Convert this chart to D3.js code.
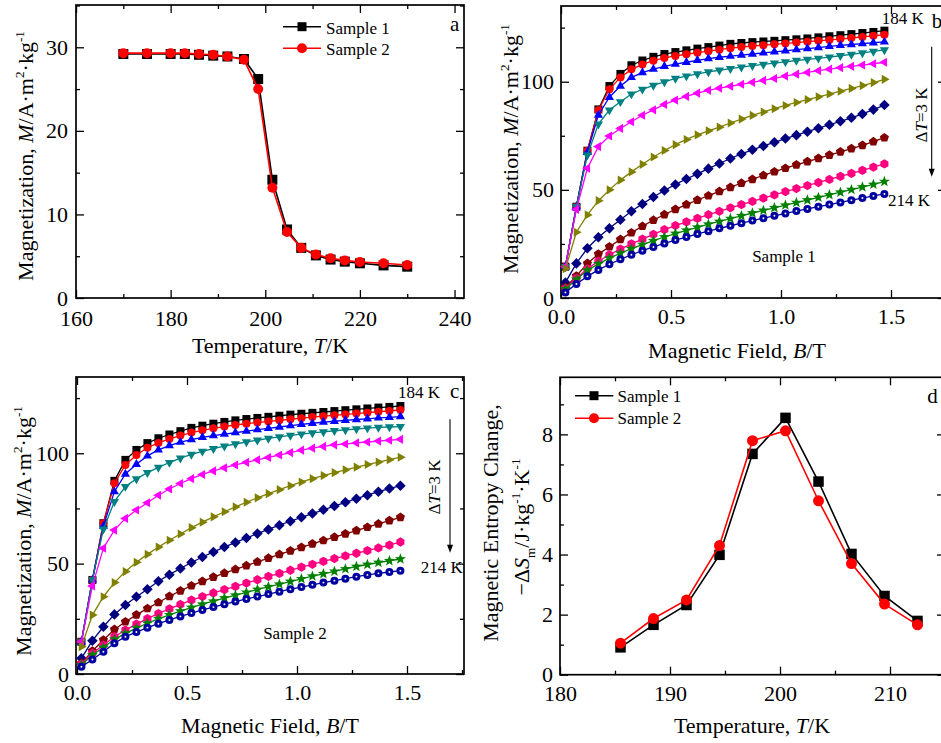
<!DOCTYPE html>
<html><head><meta charset="utf-8">
<script src="https://cdn.jsdelivr.net/npm/d3@7"></script>
<style>
body{margin:0;background:#fff}
svg{display:block;background:#fff}
text{font-family:"Liberation Serif","Times New Roman",serif;fill:#000}
</style>
</head><body>
<svg id="chart" width="941" height="743"></svg>
<script>
// ---------- Panel a : M vs T ----------
const tempA = [170,175,180,183,186,189,192,195.5,198.5,201.5,204.6,207.6,210.7,213.8,216.8,220,225,230];
const magA1 = [29.2,29.2,29.2,29.2,29.1,29.0,28.9,28.6,26.2,14.15,8.2,6.0,5.1,4.6,4.35,4.15,3.9,3.75];
const magA2 = [29.3,29.3,29.3,29.3,29.2,29.1,28.9,28.5,25.0,13.2,7.9,6.0,5.2,4.75,4.5,4.3,4.15,3.95];
const ticksAx = [160,180,200,220,240], minorAx = [170,190,210,230];
const ticksAy = [0,10,20,30], minorAy = [5,15,25,35];

// ---------- Panels b, c : M vs B ----------
const fieldB = [0.02,0.07,0.12,0.17,0.22,0.27,0.32,0.37,0.42,0.47,0.52,0.57,0.62,0.67,0.72,0.77,0.82,0.87,0.92,0.97,1.02,1.07,1.12,1.17,1.22,1.27,1.32,1.37,1.42,1.47];
const isoTemps = ["184 K","187 K","190 K","193 K","196 K","199 K","202 K","205 K","208 K","211 K","214 K"];
const s1_184 = [14.5,42.2,68.1,87.2,98.0,103.6,107.6,109.8,111.5,112.8,113.7,114.5,115.3,116.0,116.7,117.5,117.9,118.3,118.6,118.9,119.2,119.6,120.0,120.5,121.0,121.5,122.0,122.5,123.0,123.6];
const s1_187 = [14.5,42.2,68.1,86.8,96.5,102.0,105.7,108.0,109.7,111.0,111.9,112.7,113.4,114.1,114.8,115.5,116.0,116.5,116.9,117.3,117.7,118.1,118.5,118.9,119.3,119.7,120.2,120.7,121.2,121.7];
const s1_190 = [14.5,42.2,67.5,84.6,92.8,98.0,102.0,104.2,105.8,107.1,108.1,109.0,109.9,110.7,111.3,111.8,112.3,112.8,113.3,113.8,114.3,114.8,115.3,115.8,116.3,116.8,117.2,117.6,118.0,118.4];
const s1_193 = [14.5,42.2,66.1,80.4,86.9,90.7,94.3,96.5,98.3,99.9,101.5,102.6,103.6,104.5,105.3,106.0,106.7,107.4,108.0,108.6,109.2,109.8,110.3,110.8,111.4,112.0,112.6,113.3,114.0,114.7];
const s1_196 = [14.5,41.0,60.0,70.0,74.9,78.4,81.5,84.5,87.0,89.5,91.5,93.2,94.7,96.0,97.0,97.9,98.8,99.7,100.6,101.5,102.6,103.5,104.3,105.1,105.8,106.5,107.1,107.7,108.3,109.0];
const s1_199 = [13.5,30.4,38.4,45.0,50.0,54.5,58.3,61.8,65.2,68.2,70.9,73.3,75.4,77.3,79.0,80.9,82.7,84.4,86.0,87.5,89.0,90.4,91.7,93.0,94.3,95.6,96.9,98.2,99.6,101.1];
const s1_202 = [7.1,16.0,23.0,28.1,32.2,36.2,40.1,43.5,46.7,49.7,52.5,55.0,57.4,59.8,62.2,64.5,66.6,68.5,70.3,72.0,73.7,75.3,76.9,78.5,80.1,81.7,83.3,85.1,87.1,89.2];
const s1_205 = [4.9,10.2,16.0,20.3,23.7,27.1,30.2,33.2,36.0,38.6,41.0,43.2,45.3,47.3,49.3,51.2,53.1,54.9,56.7,58.4,60.0,61.6,63.1,64.6,66.1,67.6,69.1,70.6,72.3,74.1];
const s1_208 = [4.5,9.1,13.5,17.0,20.0,22.6,25.0,27.2,29.4,31.6,33.5,35.2,36.8,38.5,40.1,41.7,43.2,44.7,46.2,47.7,49.2,50.6,52.0,53.4,54.8,56.2,57.6,59.0,60.5,62.0];
const s1_211 = [4.2,8.6,12.8,15.8,18.4,20.7,22.8,24.7,26.5,28.2,29.8,31.3,32.7,34.1,35.4,36.7,38.0,39.3,40.5,41.7,42.9,44.1,45.3,46.5,47.7,48.9,50.1,51.3,52.5,53.8];
const s1_214 = [2.6,6.5,10.0,13.0,15.6,17.9,20.0,21.9,23.6,25.2,26.8,28.2,29.6,30.9,32.2,33.4,34.6,35.8,36.9,38.0,39.1,40.2,41.2,42.2,43.2,44.2,45.2,46.2,47.2,48.1];

const s2_184 = [14.6,42.6,68.3,87.5,97.0,101.5,104.6,106.8,108.5,110.0,111.5,112.5,113.4,114.2,114.9,115.5,116.0,116.5,117.0,117.5,117.9,118.3,118.7,119.1,119.5,119.9,120.3,120.7,121.0,121.4];
const s2_187 = [14.6,42.6,68.3,86.4,94.7,99.2,102.5,104.7,106.5,108.0,109.4,110.4,111.3,112.1,112.8,113.4,113.9,114.4,114.9,115.4,115.9,116.4,116.8,117.2,117.6,118.0,118.4,118.8,119.2,119.6];
const s2_190 = [14.6,42.6,67.0,82.6,90.6,95.0,98.8,101.5,103.5,105.0,106.2,107.2,108.0,108.7,109.3,110.0,110.7,111.3,111.9,112.5,113.1,113.6,114.1,114.5,114.9,115.3,115.6,116.0,116.3,116.6];
const s2_193 = [14.6,42.6,65.6,78.1,84.9,88.4,91.2,93.6,95.8,97.8,99.5,100.9,102.1,103.2,104.2,105.1,105.9,106.7,107.4,108.1,108.7,109.2,109.7,110.2,110.6,111.0,111.4,111.7,111.9,112.1];
const s2_196 = [14.6,39.9,57.0,65.2,70.5,74.3,77.6,81.0,83.8,86.3,88.5,90.4,92.0,93.4,94.7,95.9,97.0,98.1,99.2,100.3,101.4,102.3,103.1,103.8,104.2,104.7,105.1,105.5,105.9,106.3];
const s2_199 = [12.4,26.7,35.0,41.4,46.4,50.6,54.2,57.5,60.6,63.4,66.3,68.8,71.2,73.5,75.7,77.8,79.8,81.7,83.5,85.3,87.0,88.5,89.9,91.2,92.5,93.7,94.9,96.0,97.1,98.2];
const s2_202 = [7.1,15.1,21.4,27.0,31.3,35.0,38.4,42.0,45.0,47.8,50.5,53.0,55.3,57.5,59.6,61.6,63.6,65.5,67.4,69.2,71.0,72.7,74.4,76.1,77.8,79.4,81.0,82.6,84.0,85.3];
const s2_205 = [4.8,10.4,15.4,20.2,23.7,26.8,29.7,32.4,35.2,37.7,40.0,42.0,43.9,45.7,47.4,49.1,50.8,52.5,54.2,55.8,57.4,59.0,60.5,62.0,63.5,65.0,66.5,68.0,69.5,71.0];
const s2_208 = [4.5,9.4,13.1,16.9,19.9,22.6,25.1,27.4,29.5,31.5,33.5,35.1,36.7,38.2,39.7,41.2,42.7,44.2,45.6,47.0,48.4,49.7,51.0,52.3,53.5,54.7,55.9,57.1,58.4,59.8];
const s2_211 = [4.1,8.6,12.0,15.7,18.4,20.8,23.0,25.0,26.8,28.5,30.1,31.6,33.0,34.4,35.7,37.0,38.3,39.5,40.7,41.9,43.1,44.3,45.4,46.5,47.6,48.7,49.6,50.5,51.3,52.1];
const s2_214 = [3.3,6.6,10.1,13.9,16.9,19.0,21.0,22.8,24.5,26.1,27.6,29.0,30.3,31.6,32.8,34.0,35.1,36.2,37.3,38.4,39.4,40.4,41.4,42.3,43.2,44.1,44.9,45.6,46.2,46.8];
const ticksBx = [0,0.5,1.0,1.5], minorBx = [0.25,0.75,1.25,1.75];
const ticksBy = [0,50,100], minorBy = [25,75,125];

// ---------- Panel d : -dSm vs T ----------
const tempD = [185.5,188.5,191.5,194.5,197.5,200.5,203.5,206.5,209.5,212.5];
const dS1 = [0.91,1.66,2.32,3.99,7.35,8.55,6.43,4.02,2.62,1.79];
const dS2 = [1.05,1.87,2.49,4.30,7.79,8.12,5.79,3.70,2.35,1.66];
const ticksDx = [180,190,200,210], minorDx = [185,195,205,215];
const ticksDy = [0,2,4,6,8], minorDy = [1,3,5,7,9];

// styles for the 11 isotherms
const isoColors = ["#000000","#ff0000","#0000ff","#008080","#ff00ff","#808000","#000080","#800000","#ff0080","#008000","#0000a0"];
const isoShapes = ["square","circle","triUp","triDown","triLeft","triRight","diamond","pentagon","hexagon","star","sphere"];
const sample1Sets = [s1_184,s1_187,s1_190,s1_193,s1_196,s1_199,s1_202,s1_205,s1_208,s1_211,s1_214];
const sample2Sets = [s2_184,s2_187,s2_190,s2_193,s2_196,s2_199,s2_202,s2_205,s2_208,s2_211,s2_214];

const svg = d3.select("#chart");

function polyPath(n, r, rot){
  const p = d3.path();
  for(let i=0;i<n;i++){const a=rot+i*2*Math.PI/n;const x=r*Math.sin(a),y=-r*Math.cos(a);if(i)p.lineTo(x,y);else p.moveTo(x,y);}
  p.closePath();return p.toString();
}
function starPath(ro, ri){
  const p=d3.path();
  for(let i=0;i<10;i++){const r=i%2?ri:ro;const a=i*Math.PI/5;const x=r*Math.sin(a),y=-r*Math.cos(a);if(i)p.lineTo(x,y);else p.moveTo(x,y);}
  p.closePath();return p.toString();
}
function shapePath(shape, s){
  switch(shape){
    case "square": return polyPath(4, s*0.707, Math.PI/4);
    case "triUp": return polyPath(3, s*0.66, 0);
    case "triDown": return polyPath(3, s*0.66, Math.PI);
    case "triLeft": return polyPath(3, s*0.66, -Math.PI/2);
    case "triRight": return polyPath(3, s*0.66, Math.PI/2);
    case "diamond": return polyPath(4, s*0.66, 0);
    case "pentagon": return polyPath(5, s*0.6, 0);
    case "hexagon": return polyPath(6, s*0.58, 0);
    case "star": return starPath(s*0.72, s*0.3);
  }
  return null;
}
function drawMarkers(g, xs, ys, x, y, shape, color, s){
  const pts = xs.map((v,i)=>[x(v), y(ys[i])]);
  if(shape==="circle"||shape==="sphere"){
    g.selectAll(null).data(pts).enter().append("circle")
      .attr("cx",d=>d[0]).attr("cy",d=>d[1]).attr("r",s/2).attr("fill",color);
    if(shape==="sphere"){
      g.selectAll(null).data(pts).enter().append("circle")
        .attr("cx",d=>d[0]).attr("cy",d=>d[1]).attr("r",s*0.12).attr("fill","#fff");
    }
  } else {
    const d = shapePath(shape, s);
    g.selectAll(null).data(pts).enter().append("path")
      .attr("d", d).attr("transform", p=>`translate(${p[0]},${p[1]})`).attr("fill",color);
  }
}
function drawSeries(g, xs, ys, x, y, shape, color, s, lw){
  const line = d3.line().x((d,i)=>x(xs[i])).y(d=>y(d));
  g.append("path").attr("d", line(ys)).attr("fill","none").attr("stroke",color).attr("stroke-width",lw);
  drawMarkers(g, xs, ys, x, y, shape, color, s);
}

function rich(g, x, y, size, parts, anchor, rotate){
  const t = g.append("text").attr("x",x).attr("y",y).attr("font-size",size).attr("text-anchor",anchor||"start");
  if(rotate) t.attr("transform",`rotate(${rotate},${x},${y})`);
  let shift=0;
  parts.forEach(p=>{
    const ts=t.append("tspan").text(p.t);
    let target=0;
    if(p.sup) target=-size*0.42; else if(p.sub) target=size*0.28;
    ts.attr("dy", target-shift); shift=target;
    if(p.sup||p.sub) ts.attr("font-size", size*0.6);
    if(p.it) ts.attr("font-style","italic");
  });
  return t;
}

function axes(g, x, y, f, o){
  const styleAxis = sel => { sel.select(".domain").remove(); sel.selectAll("line").attr("stroke","#000").attr("stroke-width",1.3);
    sel.selectAll("text").attr("font-size",22).attr("font-family",'"Liberation Serif","Times New Roman",serif').attr("fill","#000"); };
  g.append("g").attr("transform",`translate(0,${f.b})`)
    .call(d3.axisBottom(x).tickValues(o.xt).tickFormat(o.xf).tickSizeInner(-8).tickSizeOuter(0).tickPadding(o.padX)).call(styleAxis);
  g.append("g").attr("transform",`translate(0,${f.b})`)
    .call(d3.axisBottom(x).tickValues(o.xm).tickFormat("").tickSizeInner(-4).tickSizeOuter(0)).call(styleAxis);
  g.append("g").attr("transform",`translate(0,${f.t})`)
    .call(d3.axisTop(x).tickValues(o.xt).tickFormat("").tickSizeInner(-8).tickSizeOuter(0)).call(styleAxis);
  g.append("g").attr("transform",`translate(0,${f.t})`)
    .call(d3.axisTop(x).tickValues(o.xm).tickFormat("").tickSizeInner(-4).tickSizeOuter(0)).call(styleAxis);
  g.append("g").attr("transform",`translate(${f.l},0)`)
    .call(d3.axisLeft(y).tickValues(o.yt).tickFormat(o.yf).tickSizeInner(-8).tickSizeOuter(0).tickPadding(o.padY)).call(styleAxis);
  g.append("g").attr("transform",`translate(${f.l},0)`)
    .call(d3.axisLeft(y).tickValues(o.ym).tickFormat("").tickSizeInner(-4).tickSizeOuter(0)).call(styleAxis);
  g.append("g").attr("transform",`translate(${f.r},0)`)
    .call(d3.axisRight(y).tickValues(o.yt).tickFormat("").tickSizeInner(-8).tickSizeOuter(0)).call(styleAxis);
  g.append("g").attr("transform",`translate(${f.r},0)`)
    .call(d3.axisRight(y).tickValues(o.ym).tickFormat("").tickSizeInner(-4).tickSizeOuter(0)).call(styleAxis);
  g.append("rect").attr("x",f.l).attr("y",f.t).attr("width",f.r-f.l).attr("height",f.b-f.t)
    .attr("fill","none").attr("stroke","#000").attr("stroke-width",1.7);
}

function arrowDown(g, x, y1, y2){
  g.append("line").attr("x1",x).attr("x2",x).attr("y1",y1).attr("y2",y2-6).attr("stroke","#000").attr("stroke-width",1.1);
  g.append("path").attr("d",`M${x-3},${y2-8}L${x+3},${y2-8}L${x},${y2}Z`).attr("fill","#000");
}

const magLabel = [{t:"Magnetization, "},{t:"M",it:1},{t:"/A·m"},{t:"2",sup:1},{t:"·kg"},{t:"-1",sup:1}];
const fieldLabel = [{t:"Magnetic Field, "},{t:"B",it:1},{t:"/T"}];
const tempLabel = [{t:"Temperature, "},{t:"T",it:1},{t:"/K"}];

// ===== Panel a =====
{
  const f={l:76,r:464,t:5,b:298};
  const g=svg.append("g");
  const x=d3.scaleLinear().domain([160,242]).range([f.l,f.r]);
  const y=d3.scaleLinear().domain([0,35]).range([f.b,f.t+0.5]);
  axes(g,x,y,f,{xt:ticksAx,xm:minorAx,yt:ticksAy,ym:minorAy,xf:d3.format("d"),yf:d3.format("d"),padX:12,padY:8});
  drawSeries(g,tempA,magA1,x,y,"square","#000",10,1.6);
  drawSeries(g,tempA,magA2,x,y,"circle","#ff0000",10,1.6);
  // legend
  g.append("line").attr("x1",283).attr("x2",321).attr("y1",26.7).attr("y2",26.7).attr("stroke","#000").attr("stroke-width",1.6);
  g.append("path").attr("d",shapePath("square",9)).attr("transform","translate(302,26.7)").attr("fill","#000");
  g.append("line").attr("x1",283).attr("x2",321).attr("y1",48.3).attr("y2",48.3).attr("stroke","#f00").attr("stroke-width",1.6);
  g.append("circle").attr("cx",302).attr("cy",48.3).attr("r",5).attr("fill","#f00");
  g.append("text").attr("x",326).attr("y",33.5).attr("font-size",17).text("Sample 1");
  g.append("text").attr("x",326).attr("y",55).attr("font-size",17).text("Sample 2");
  g.append("text").attr("x",450).attr("y",30.5).attr("font-size",21).text("a");
  rich(g,270,353,22,tempLabel,"middle");
  rich(g,33,156,22,magLabel,"middle",-90);
}

// ===== Panel b =====
{
  const f={l:561,r:946,t:6,b:298};
  const g=svg.append("g");
  const x=d3.scaleLinear().domain([0,1.75]).range([f.l,f.r]);
  const y=d3.scaleLinear().domain([0,135]).range([f.b,f.t]);
  axes(g,x,y,f,{xt:ticksBx,xm:minorBx,yt:ticksBy,ym:minorBy,xf:d3.format(".1f"),yf:d3.format("d"),padX:10.5,padY:7});
  sample1Sets.forEach((ys,i)=>drawSeries(g,fieldB,ys,x,y,isoShapes[i],isoColors[i],8,1.3));
  g.append("text").attr("x",881.7).attr("y",24).attr("font-size",17).text(isoTemps[0]);
  g.append("text").attr("x",888).attr("y",206).attr("font-size",17).text(isoTemps[10]);
  g.append("text").attr("x",931.7).attr("y",28).attr("font-size",21).text("b");
  rich(g,927,115,17,[{t:"Δ"},{t:"T",it:1},{t:"=3 K"}],"middle",-90);
  arrowDown(g,931.7,46.7,176.7);
  g.append("text").attr("x",784).attr("y",262).attr("font-size",17).attr("text-anchor","middle").text("Sample 1");
  rich(g,737,358,22,fieldLabel,"middle");
  rich(g,518,149,22,magLabel,"middle",-90);
}

// ===== Panel c =====
{
  const f={l:76,r:464,t:377,b:674};
  const g=svg.append("g");
  const x=d3.scaleLinear().domain([0,1.75]).range([77,462]);
  const y=d3.scaleLinear().domain([0,135]).range([f.b,f.t-1]);
  axes(g,x,y,f,{xt:ticksBx,xm:minorBx,yt:ticksBy,ym:minorBy,xf:d3.format(".1f"),yf:d3.format("d"),padX:10.5,padY:7});
  sample2Sets.forEach((ys,i)=>drawSeries(g,fieldB,ys,x,y,isoShapes[i],isoColors[i],8,1.3));
  g.append("text").attr("x",398).attr("y",398).attr("font-size",17).text(isoTemps[0]);
  g.append("text").attr("x",420.7).attr("y",573).attr("font-size",17).text(isoTemps[10]);
  g.append("text").attr("x",450).attr("y",398).attr("font-size",21).text("c");
  rich(g,440,487,17,[{t:"Δ"},{t:"T",it:1},{t:"=3 K"}],"middle",-90);
  arrowDown(g,450,419.3,552.7);
  g.append("text").attr("x",295).attr("y",639).attr("font-size",17).attr("text-anchor","middle").text("Sample 2");
  rich(g,270,733,22,fieldLabel,"middle");
  rich(g,31,531,22,magLabel,"middle",-90);
}

// ===== Panel d =====
{
  const f={l:560,r:945,t:377.3,b:674.7};
  const g=svg.append("g");
  const x=d3.scaleLinear().domain([180,215]).range([f.l,f.r]);
  const y=d3.scaleLinear().domain([0,9.9]).range([f.b,f.t]);
  axes(g,x,y,f,{xt:ticksDx,xm:minorDx,yt:ticksDy,ym:minorDy,xf:d3.format("d"),yf:d3.format("d"),padX:10.5,padY:7});
  drawSeries(g,tempD,dS1,x,y,"square","#000",10.5,1.6);
  drawSeries(g,tempD,dS2,x,y,"circle","#ff0000",11,1.6);
  g.append("line").attr("x1",575).attr("x2",613.3).attr("y1",395.7).attr("y2",395.7).attr("stroke","#000").attr("stroke-width",1.6);
  g.append("path").attr("d",shapePath("square",9)).attr("transform","translate(594,395.7)").attr("fill","#000");
  g.append("line").attr("x1",575).attr("x2",613.3).attr("y1",418.3).attr("y2",418.3).attr("stroke","#f00").attr("stroke-width",1.6);
  g.append("circle").attr("cx",594).attr("cy",418.3).attr("r",5).attr("fill","#f00");
  g.append("text").attr("x",617.5).attr("y",402).attr("font-size",17).text("Sample 1");
  g.append("text").attr("x",617.5).attr("y",424).attr("font-size",17).text("Sample 2");
  g.append("text").attr("x",927.3).attr("y",403).attr("font-size",21).text("d");
  rich(g,752,733,22,tempLabel,"middle");
  rich(g,498,523,22,[{t:"Magnetic Entropy Change,"}],"middle",-90);
  rich(g,529,527,22,[{t:"−Δ"},{t:"S",it:1},{t:"m",sub:1},{t:"/J·kg"},{t:"-1",sup:1},{t:"·K"},{t:"-1",sup:1}],"middle",-90);
}
</script>
</body></html>
